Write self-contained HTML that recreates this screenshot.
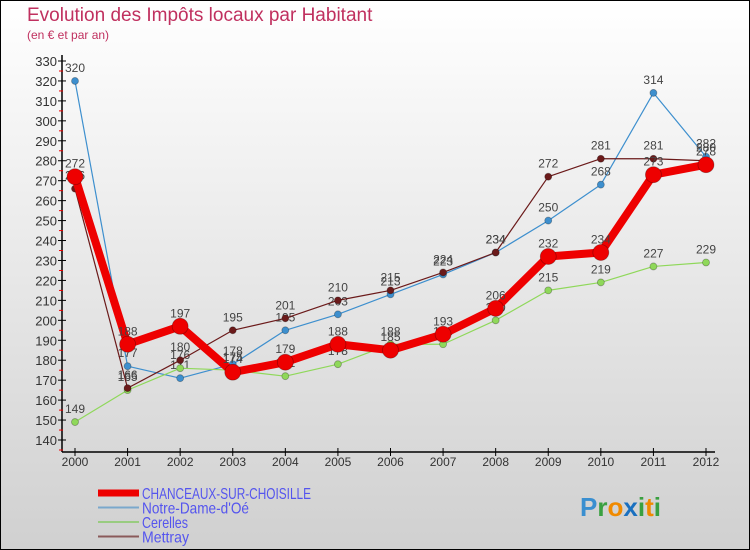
<!DOCTYPE html>
<html><head><meta charset="utf-8"><style>
body{margin:0}
#c{width:750px;height:550px;position:relative;overflow:hidden}
svg text{font-family:"Liberation Sans",sans-serif}
</style></head><body>
<div id="c">
<svg id="s" width="750" height="550" xmlns="http://www.w3.org/2000/svg">
<defs><linearGradient id="bg" x1="0" y1="0" x2="0" y2="1"><stop offset="0" stop-color="#ffffff"/><stop offset="1" stop-color="#d0d0d0"/></linearGradient></defs>
<rect x="0.5" y="0.5" width="749" height="549" fill="url(#bg)" stroke="#000"/>
<text x="27" y="21" font-size="19" fill="#c0305f">Evolution des Impôts locaux par Habitant</text>
<text x="27" y="39" font-size="12" fill="#c0305f">(en € et par an)</text>
<g id="axes"></g><g id="series"></g><g id="legend"></g>
<text x="580" y="516" font-size="26" font-weight="bold" fill="#3a8fd0">P<tspan fill="#3aa040">r</tspan><tspan fill="#f08a00">o</tspan><tspan fill="#1a70c0">x</tspan><tspan fill="#3aa040">i</tspan><tspan fill="#f08a00">t</tspan><tspan fill="#3aa040">i</tspan></text>
</svg></div>
<script>
const years=[2000,2001,2002,2003,2004,2005,2006,2007,2008,2009,2010,2011,2012];
const chanceaux=[272,188,197,174,179,188,185,193,206,232,234,273,278];
const notreDame=[320,177,171,178,195,203,213,223,234,250,268,314,282];
const cerelles=[149,165,176,175,172,178,188,188,200,215,219,227,229];
const mettray=[266,166,180,195,201,210,215,224,234,272,281,281,280];
const yTicks=[140,150,160,170,180,190,200,210,220,230,240,250,260,270,280,290,300,310,320,330];
const names=["CHANCEAUX-SUR-CHOISILLE","Notre-Dame-d'Oé","Cerelles","Mettray"];
const NS="http://www.w3.org/2000/svg";
const xS=i=>75+i*(706-75)/12;
const yS=v=>440-(v-140)*(440-61)/190;
function mk(t,a,p){const e=document.createElementNS(NS,t);for(const k in a)e.setAttribute(k,a[k]);p.appendChild(e);return e;}
const ax=document.getElementById('axes');
let e=mk('line',{x1:62,y1:55,x2:62,y2:452,stroke:'#000','stroke-width':1.5},ax);


e=mk('line',{x1:62,y1:452,x2:715,y2:452,stroke:'#000','stroke-width':1.5},ax);


yTicks.forEach(v=>{const y=yS(v);
 mk('line',{x1:58,y1:y,x2:66,y2:y,stroke:'#000'},ax);
 mk('line',{x1:59,y1:y+10,x2:63,y2:y+10,stroke:'#e00'},ax);
 const t=mk('text',{x:57,y:y+5,'font-size':13,fill:'#333','text-anchor':'end'},ax);t.textContent=v;
 
 });
years.forEach((yr,i)=>{const x=xS(i);
 mk('line',{x1:x,y1:448,x2:x,y2:456,stroke:'#000'},ax);
 const t=mk('text',{x:x,y:466,'font-size':12,fill:'#333','text-anchor':'middle'},ax);t.textContent=yr;
 
 });
const S=[{d:notreDame,c:'#3d8fce',w:1.2,r:3.5,n:'notre-dame'},{d:cerelles,c:'#8fd85a',w:1.2,r:3.5,n:'cerelles'},{d:mettray,c:'#6b1a1a',w:1.2,r:3.5,n:'mettray'},{d:chanceaux,c:'#ee0000',w:8,r:8,n:'chanceaux'}];
const sg=document.getElementById('series');
S.forEach(s=>{const g=mk('g',{},sg);
 
 
 mk('polyline',{points:s.d.map((v,i)=>xS(i)+','+yS(v)).join(' '),fill:'none',stroke:s.c,'stroke-width':s.w,'stroke-linejoin':'round'},g);
 s.d.forEach((v,i)=>{const c=mk('circle',{cx:xS(i),cy:yS(v),r:s.r,fill:s.c,stroke:'rgba(0,0,0,0.3)','stroke-width':0.8},g);
  
  
  const t=mk('text',{x:xS(i),y:yS(v)-9,'font-size':12,fill:'#444','text-anchor':'middle'},g);t.textContent=v;
  
  });});
const lg=document.getElementById('legend');
const lc=['#ee0000','#7aa8cc','#99cc80','#8a5a5a'],lw=[7,2,2,2],tl=[169,107,46,47];
names.forEach((n,i)=>{const y=493+i*14.5;
 const g=mk('g',{},lg);
 
 
 mk('line',{x1:98,y1:y,x2:139,y2:y,stroke:lc[i],'stroke-width':lw[i]},g);
 const t=mk('text',{x:142,y:y+6,'font-size':16,fill:'#5555ee',textLength:tl[i],lengthAdjust:'spacingAndGlyphs'},g);t.textContent=n;});
</script>
</body></html>
